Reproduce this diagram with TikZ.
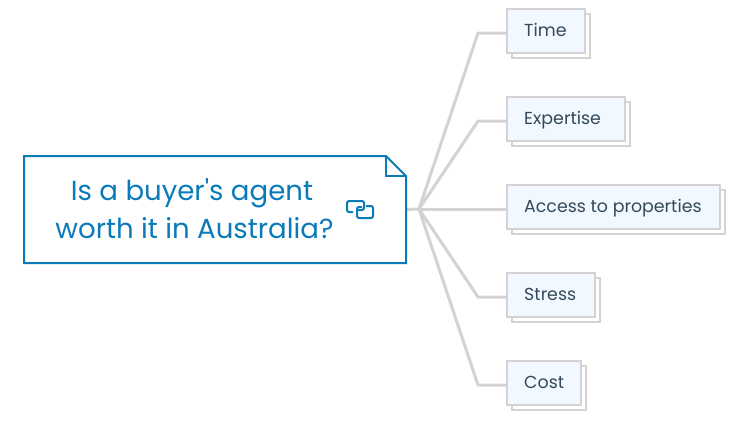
\documentclass[tikz,border=0pt]{standalone}
\usepackage{fontspec}
\setmainfont{Poppins}
\newfontfamily\plainpop[Ligatures=ResetAll]{Poppins}
\definecolor{mainblue}{HTML}{0A7AB8}
\definecolor{linegray}{HTML}{D3D3D3}
\definecolor{subfill}{HTML}{F1F8FF}
\definecolor{subtext}{HTML}{33495A}
\tikzset{
  x=1pt,y=-1pt,
  subbox/.style={draw=linegray,line width=2.2pt,fill=subfill,minimum height=44pt,inner sep=0pt,outer sep=0pt,anchor=north west},
  subshadow/.style={draw=linegray,line width=1.8pt,fill=white,minimum height=44pt,inner sep=0pt,outer sep=0pt,anchor=north west},
  sublabel/.style={text=subtext,font=\fontsize{17.4}{20}\selectfont,anchor=base west,inner sep=0pt},
  mainlabel/.style={text=mainblue,font=\plainpop\fontsize{27.6}{36}\selectfont,anchor=base,inner sep=0pt},
  conn/.style={draw=linegray,line width=3pt,line join=round},
  mainline/.style={draw=mainblue,line width=2pt,line join=miter},
  iconline/.style={draw=mainblue,line width=2pt,rounded corners=2pt},
}
\begin{document}
\begin{tikzpicture}
\useasboundingbox (0,0) rectangle (744,421);
\coordinate (hub) at (419,209);
\coordinate (e1) at (478,33);
\coordinate (e2) at (478,121);
\coordinate (e4) at (478,297);
\coordinate (e5) at (478,385);
% shadows
\node[subshadow,minimum width=78pt] (s1) at (512,14) {};
\node[subshadow,minimum width=118pt] (s2) at (512,102) {};
\node[subshadow,minimum width=213pt] (s3) at (512,190) {};
\node[subshadow,minimum width=88pt] (s4) at (512,278) {};
\node[subshadow,minimum width=74pt] (s5) at (512,366) {};
% main
\node[minimum width=382pt,minimum height=107pt,inner sep=0pt,outer sep=0pt,anchor=north west] (main) at (24,156) {};
% connectors
\draw[conn] (main.east) -- (hub);
\node[subbox,minimum width=78pt] (t1) at (507,9) {};
\node[subbox,minimum width=118pt] (t2) at (507,97) {};
\node[subbox,minimum width=213pt] (t3) at (507,185) {};
\node[subbox,minimum width=88pt] (t4) at (507,273) {};
\node[subbox,minimum width=74pt] (t5) at (507,361) {};
\draw[conn] (hub) -- (e1) -- ([yshift=-2pt]t1.west);
\draw[conn] (hub) -- (e2) -- ([yshift=-2pt]t2.west);
\draw[conn] (hub) -- ([yshift=-2pt]t3.west);
\draw[conn] (hub) -- (e4) -- ([yshift=-2pt]t4.west);
\draw[conn] (hub) -- (e5) -- ([yshift=-2pt]t5.west);
\node[sublabel] (l1) at (524,36) {Time};
\node[sublabel] (l2) at (524,124) {Expertise};
\node[sublabel] (l3) at (524,212) {Access to properties};
\node[sublabel] (l4) at (524,300) {Stress};
\node[sublabel] (l5) at (524,388) {Cost};
% note outline
\draw[mainline] (24,156) -- (386,156) -- (406,176) -- (406,263) -- (24,263) -- cycle;
\draw[mainline] (386,156) -- (386,176) -- (406,176);
\node[mainlabel] (m1) at (192,200) {Is a buyer's agent};
\node[mainlabel] (m2) at (194.5,238) {worth it in Australia?};
% link icon
\draw[iconline] (353,212) -- (347,212) -- (347,201) -- (364,201) -- (364,210) -- (358,210);
\draw[iconline] (366,206) -- (373,206) -- (373,218) -- (357,218) -- (357,207) -- (362,207);
\end{tikzpicture}
\end{document}
